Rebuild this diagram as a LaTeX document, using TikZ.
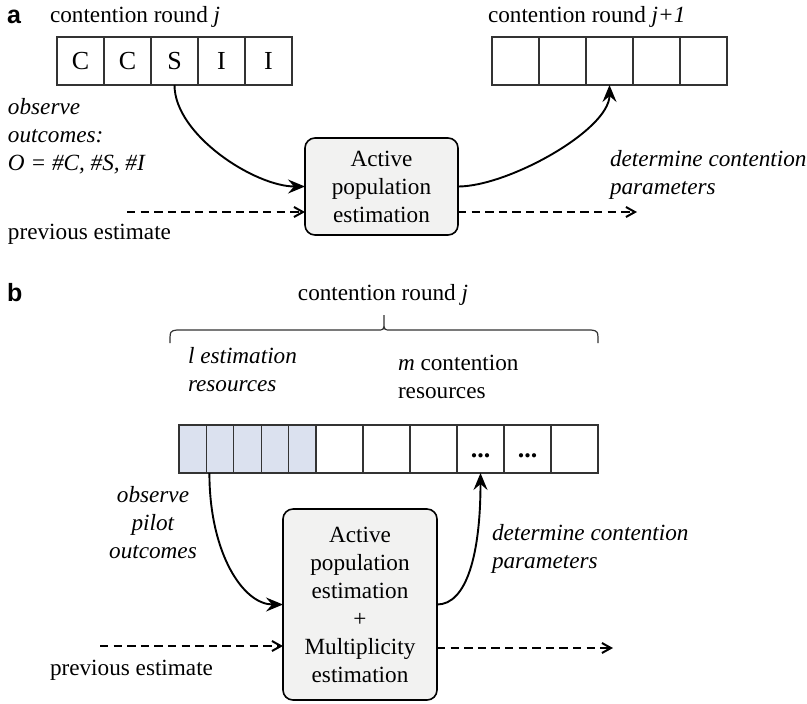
\documentclass[tikz,border=0pt]{standalone}
\usepackage{fontspec}
\setmainfont{Liberation Serif}
\newfontfamily\panelfont{Liberation Sans}
\usetikzlibrary{arrows.meta}
\definecolor{boxgray}{HTML}{F2F2F1}
\definecolor{pilotblue}{HTML}{DBE1EF}
\definecolor{cellline}{HTML}{333333}
\begin{document}
\begin{tikzpicture}[x=0.5pt,y=-0.5pt,
  every node/.style={inner sep=0pt, outer sep=0pt},
  txt/.style={font=\fontsize{11.6}{14}\selectfont},
  panel/.style={font=\panelfont\bfseries\fontsize{12.5}{14}\selectfont, anchor=base west},
  cell/.style={draw=cellline, line width=0.6pt, minimum width=23.5pt, minimum height=24pt,
               text height=8pt, text depth=0pt, font=\fontsize{13}{14}\selectfont},
  pilot/.style={cell, fill=pilotblue, minimum width=13.7pt},
  estbox/.style={draw, line width=0.8pt, rounded corners=5pt, fill=boxgray, align=center, txt},
  flow/.style={line width=0.95pt, -{Stealth[length=8.5pt,width=7pt,inset=3pt]}},
  prevflow/.style={line width=1pt, dash pattern=on 4.2pt off 2.6pt,
                   -{Straight Barb[length=4.5pt,width=5pt]}},
]
\useasboundingbox (0,0) rectangle (807,703);

% ---------------- panel a ----------------
\node[panel] (pa) at (7,23) {a};
\node[txt, anchor=base west] (rj) at (50,22) {contention round \textit{j}};
\node[txt, anchor=base west] (rj1) at (488,22) {contention round \textit{j+1}};

% slots of round j
\node[cell] (ca1) at (80.5,61) {C};
\node[cell] (ca2) at (127.5,61) {C};
\node[cell] (ca3) at (174.5,61) {S};
\node[cell] (ca4) at (221.5,61) {I};
\node[cell] (ca5) at (268.5,61) {I};

% slots of round j+1
\node[cell] (cb1) at (515.5,61) {};
\node[cell] (cb2) at (562.5,61) {};
\node[cell] (cb3) at (609.5,61) {};
\node[cell] (cb4) at (656.5,61) {};
\node[cell] (cb5) at (703.5,61) {};

\node[estbox, minimum width=76.5pt, minimum height=48.5pt] (ea) at (381.5,186.5)
  {Active\\population\\estimation};

\node[txt, anchor=base west] (obsa) at (8,114)
  {\begin{tabular}[t]{@{}l@{}}\textit{observe}\\\textit{outcomes:}\\\textit{O = \#C, \#S, \#I}\end{tabular}};
\node[txt, anchor=base west] (preva) at (8,239) {previous estimate};
\node[txt, anchor=base west] (deta) at (610,166)
  {\begin{tabular}[t]{@{}l@{}}\textit{determine contention}\\\textit{parameters}\end{tabular}};

\coordinate (ina) at (127,212);
\coordinate (outa) at (637,212);

\draw[flow] (ca3.south) .. controls +(0,50) and +(-50,0) .. (ea.west);
\draw[flow] (ea.east) .. controls +(50,0) and +(0,45) .. (cb3.south);
\draw[prevflow] (ina) -- (ina -| ea.west);
\draw[prevflow] (outa -| ea.east) -- (outa);

% ---------------- panel b ----------------
\node[panel] (pb) at (7,301) {b};
\node[txt, anchor=base] (rb) at (383,300) {contention round \textit{j}};

% brace over the whole round
\draw[line width=0.6pt, cellline]
  (170,343) .. controls (170,331) .. (177,330) -- (377,330)
  .. controls (384,330) .. (384,322) -- (384,315)
  (384,322) .. controls (384,330) .. (391,330) -- (591,330)
  .. controls (598,331) .. (598,343);

\node[txt, anchor=base west] (estres) at (188,363)
  {\begin{tabular}[t]{@{}l@{}}\textit{l estimation}\\\textit{resources}\end{tabular}};
\node[txt, anchor=base west] (conres) at (398,370)
  {\begin{tabular}[t]{@{}l@{}}\textit{m} contention\\resources\end{tabular}};

% pilot slots
\node[pilot] (s1) at (192.7,449) {};
\node[pilot] (s2) at (220.1,449) {};
\node[pilot] (s3) at (247.5,449) {};
\node[pilot] (s4) at (274.9,449) {};
\node[pilot] (s5) at (302.3,449) {};
% contention slots
\node[cell] (w1) at (339.5,449) {};
\node[cell] (w2) at (386.5,449) {};
\node[cell] (w3) at (433.5,449) {};
\node[cell] (w4) at (480.5,449) {\textbf{...}};
\node[cell] (w5) at (527.5,449) {\textbf{...}};
\node[cell] (w6) at (574.5,449) {};

\node[estbox, minimum width=77pt, minimum height=95.5pt] (eb) at (360,604.5)
  {Active\\population\\estimation\\+\\Multiplicity\\estimation};

\node[txt, anchor=base] (obsb) at (153,502)
  {\begin{tabular}[t]{@{}c@{}}\textit{observe}\\\textit{pilot}\\\textit{outcomes}\end{tabular}};
\node[txt, anchor=base west] (prevb) at (50,675) {previous estimate};
\node[txt, anchor=base west] (detb) at (492,540)
  {\begin{tabular}[t]{@{}l@{}}\textit{determine contention}\\\textit{parameters}\end{tabular}};

\coordinate (inb) at (100,646);
\coordinate (outb) at (613,648);

\draw[flow] ([xshift=1.5pt]s2.south west) .. controls +(0,80) and +(-40,0) .. (eb.west);
\draw[flow] (eb.east) .. controls +(30,0) and +(0,80) .. (w4.south);
\draw[prevflow] (inb) -- (inb -| eb.west);
\draw[prevflow] (outb -| eb.east) -- (outb);
\end{tikzpicture}
\end{document}
